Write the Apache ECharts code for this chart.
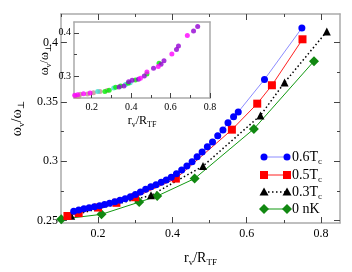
<!DOCTYPE html>
<html>
<head>
<meta charset="utf-8">
<script src="https://cdn.jsdelivr.net/npm/echarts@6/dist/echarts.min.js"></script>
<style>html,body{margin:0;padding:0;background:#fff;}#c{width:352px;height:272px;}</style>
</head>
<body>
<div id="c"></div>
<script>
// ---- main chart data: [r_v/R_TF, omega_v/omega_perp] ----
const blue06 = [[0.1345,0.2580],[0.148,0.2589],[0.162,0.2599],[0.176,0.2608],[0.190,0.2617],[0.204,0.2626],[0.2175,0.2636],[0.231,0.2646],[0.245,0.2658],[0.259,0.2671],[0.273,0.2685],[0.287,0.2701],[0.3005,0.2720],[0.314,0.2741],[0.328,0.2764],[0.342,0.2785],[0.356,0.2803],[0.370,0.2823],[0.3835,0.2842],[0.397,0.2865],[0.411,0.2894],[0.425,0.2926],[0.439,0.2959],[0.453,0.2996],[0.4665,0.3037],[0.480,0.3077],[0.494,0.3122],[0.508,0.3163],[0.522,0.3215],[0.536,0.3264],[0.5496,0.3325],[0.5647,0.3374],[0.5772,0.3415],[0.6478,0.3689],[0.7484,0.4122]];
const red05 = [[0.1176,0.2539],[0.1478,0.2563],[0.1999,0.2610],[0.2494,0.2650],[0.2997,0.2697],[0.4094,0.2854],[0.5601,0.3266],[0.6283,0.3485],[0.6678,0.3640],[0.7501,0.4027]];
const black03 = [[0.1277,0.2542],[0.3425,0.2713],[0.4824,0.2959],[0.6369,0.3386],[0.7018,0.3663],[0.8155,0.4093]];
const green0 = [[0.1010,0.2512],[0.2092,0.2553],[0.3106,0.2656],[0.3591,0.2707],[0.4598,0.2854],[0.6192,0.3272],[0.7810,0.3843]];
// ---- inset data ----
const insetMagenta = [[0.1135,0.2554],[0.1285,0.2568],[0.1585,0.2591],[0.1915,0.2607],[0.447,0.2945],[0.48,0.3092],[0.5375,0.3219],[0.6065,0.3508],[0.685,0.394]];
const insetPurple = [[0.3385,0.2746],[0.3635,0.2769],[0.387,0.2868],[0.405,0.2901],[0.4365,0.2924],[0.4665,0.3000],[0.5135,0.3178],[0.5515,0.3270],[0.5665,0.3353],[0.63,0.3612],[0.64,0.3693],[0.7165,0.4039],[0.7375,0.4143]];
const insetGreen = [[0.2665,0.2638],[0.2885,0.2670],[0.3215,0.2739],[0.3465,0.2769],[0.385,0.2831],[0.4215,0.2908],[0.48,0.3046],[0.5415,0.3293]];
const insetCyan = [[0.23,0.2638],[0.3115,0.2723],[0.3715,0.2800],[0.395,0.2845]];
const insetTan = [[0.12,0.2530],[0.1335,0.2522],[0.1415,0.2577],[0.1785,0.2584],[0.2085,0.2614],[0.2415,0.2638],[0.2785,0.2661]];
// ---- ticks ----
const mainXMajor = [0.2,0.4,0.6,0.8];
const mainXMinor = [0.1,0.3,0.5,0.7];
const mainYMajor = [0.25,0.3,0.35,0.4];
const mainYMinor = [0.275,0.325,0.375];
const insetXMajor = [0.2,0.4,0.6,0.8];
const insetXMinor = [0.3,0.5,0.7];
const insetYMajor = [0.3,0.4];
const insetYMinor = [0.25,0.35];
const legendNames = ['0.6T{s|c}','0.5T{s|c}','0.3T{s|c}','0 nK'];

const FF = "'Liberation Serif','DejaVu Serif',serif";
const chart = echarts.init(document.getElementById('c'), null, {renderer:'canvas'});

function axisX(opts){
  return Object.assign({
    type:'value', splitLine:{show:false},
    axisLine:{show:false}, axisLabel:{show:false},
    axisTick:{show:true, inside:true, length:5, lineStyle:{color:'#444', width:1}}
  }, opts);
}
const subRich = {s:{fontSize:9, fontFamily:FF, lineHeight:10, verticalAlign:'bottom', color:'#000'}};
const subRichSmall = {s:{fontSize:8, fontFamily:FF, lineHeight:9, verticalAlign:'bottom', color:'#000'}};

const frame = {show:true, lineStyle:{color:'#aaa', width:1.5}};

const option = {
  animation:false,
  backgroundColor:'#fff',
  grid:[
    {left:41, top:14, right:12, bottom:41, show:true, borderWidth:0, backgroundColor:'transparent'},
    {left:74, top:22, width:136, height:76, show:true, borderWidth:0, backgroundColor:'#fff'}
  ],
  xAxis:[
    axisX({gridIndex:0, min:0.1, max:0.851, position:'bottom', axisLine:frame,
      axisTick:{show:true, inside:true, length:6, customValues:mainXMajor, lineStyle:{color:'#444'}},
      axisLabel:{show:true, customValues:mainXMajor, margin:5, fontSize:12, fontFamily:FF, color:'#000'},
      name:'r{s|v}/R{s|TF}', nameLocation:'middle', nameGap:26,
      nameTextStyle:{fontSize:14, fontFamily:FF, color:'#000', lineHeight:18, rich:subRich}}),
    axisX({gridIndex:0, min:0.1, max:0.851, position:'bottom',
      axisTick:{show:true, inside:true, length:3, customValues:mainXMinor, lineStyle:{color:'#444'}}}),
    axisX({gridIndex:0, min:0.1, max:0.851, position:'top', axisLine:frame,
      axisTick:{show:true, inside:true, length:6, customValues:mainXMajor, lineStyle:{color:'#444'}}}),
    axisX({gridIndex:0, min:0.1, max:0.851, position:'top',
      axisTick:{show:true, inside:true, length:3, customValues:mainXMinor, lineStyle:{color:'#444'}}}),
    axisX({gridIndex:1, min:0.11, max:0.8, position:'bottom', axisLine:frame,
      axisTick:{show:true, inside:true, length:5, customValues:insetXMajor, lineStyle:{color:'#444'}},
      axisLabel:{show:true, customValues:insetXMajor, margin:4, fontSize:10, fontFamily:FF, color:'#000'},
      name:'r{s|v}/R{s|TF}', nameLocation:'middle', nameGap:14,
      nameTextStyle:{fontSize:12, fontFamily:FF, color:'#000', lineHeight:16, rich:subRichSmall}}),
    axisX({gridIndex:1, min:0.11, max:0.8, position:'bottom',
      axisTick:{show:true, inside:true, length:3, customValues:insetXMinor, lineStyle:{color:'#444'}}}),
    axisX({gridIndex:1, min:0.11, max:0.8, position:'top', axisLine:frame, axisTick:{show:false}})
  ],
  yAxis:[
    axisX({gridIndex:0, min:0.248, max:0.424, position:'left', axisLine:frame,
      axisTick:{show:true, inside:true, length:6, customValues:mainYMajor, lineStyle:{color:'#444'}},
      axisLabel:{show:true, customValues:mainYMajor, margin:3, fontSize:12, fontFamily:FF, color:'#000'},
      name:'ω{s|v}/ω{s|⊥}', nameLocation:'middle', nameGap:28,
      nameTextStyle:{fontSize:14, fontFamily:FF, color:'#000', lineHeight:18, rich:subRich}}),
    axisX({gridIndex:0, min:0.248, max:0.424, position:'left',
      axisTick:{show:true, inside:true, length:3, customValues:mainYMinor, lineStyle:{color:'#444'}}}),
    axisX({gridIndex:0, min:0.248, max:0.424, position:'right', axisLine:frame,
      axisTick:{show:true, inside:true, length:6, customValues:mainYMajor, lineStyle:{color:'#444'}}}),
    axisX({gridIndex:0, min:0.248, max:0.424, position:'right',
      axisTick:{show:true, inside:true, length:3, customValues:mainYMinor, lineStyle:{color:'#444'}}}),
    axisX({gridIndex:1, min:0.249, max:0.425, position:'left', axisLine:frame,
      axisTick:{show:true, inside:true, length:5, customValues:insetYMajor, lineStyle:{color:'#444'}},
      axisLabel:{show:true, customValues:insetYMajor, margin:3, fontSize:10, fontFamily:FF, color:'#000'},
      name:'ω{s|v}/ω{s|⊥}', nameLocation:'middle', nameGap:21,
      nameTextStyle:{fontSize:12, fontFamily:FF, color:'#000', lineHeight:16, rich:subRichSmall}}),
    axisX({gridIndex:1, min:0.249, max:0.425, position:'left',
      axisTick:{show:true, inside:true, length:3, customValues:insetYMinor, lineStyle:{color:'#444'}}}),
    axisX({gridIndex:1, min:0.249, max:0.425, position:'right', axisLine:frame, axisTick:{show:false}})
  ],
  series:[
    {type:'line', data:green0, xAxisIndex:0, yAxisIndex:0, symbol:'diamond', symbolSize:10,
      lineStyle:{color:'#119911', width:1}, itemStyle:{color:'#118811'}},
    {type:'line', data:black03, xAxisIndex:0, yAxisIndex:0, symbol:'triangle', symbolSize:8,
      lineStyle:{color:'#000', width:1.5, type:[1.5,2.5]}, itemStyle:{color:'#000'}},
    {type:'line', data:red05, xAxisIndex:0, yAxisIndex:0, symbol:'rect', symbolSize:8,
      lineStyle:{color:'#ff2020', width:1}, itemStyle:{color:'#ff0000'}},
    {type:'line', data:blue06, xAxisIndex:0, yAxisIndex:0, symbol:'circle', symbolSize:7,
      lineStyle:{color:'#8c8cff', width:1}, itemStyle:{color:'#0000ff'}},
    {type:'scatter', data:insetTan, xAxisIndex:4, yAxisIndex:4, symbolSize:5, itemStyle:{color:'#c09090'}},
    {type:'scatter', data:insetCyan, xAxisIndex:4, yAxisIndex:4, symbolSize:5, itemStyle:{color:'#40e0d0'}},
    {type:'scatter', data:insetGreen, xAxisIndex:4, yAxisIndex:4, symbolSize:5, itemStyle:{color:'#00ee00'}},
    {type:'scatter', data:insetPurple, xAxisIndex:4, yAxisIndex:4, symbolSize:5, itemStyle:{color:'#9400d3'}},
    {type:'scatter', data:insetMagenta, xAxisIndex:4, yAxisIndex:4, symbolSize:5, itemStyle:{color:'#ff00ff'}}
  ]
};

// ---- legend drawn as graphic ----
const legendStyles = [
  {line:'#8c8cff', mark:'#0000ff', shape:'circle', dash:null},
  {line:'#ff2020', mark:'#ff0000', shape:'rect', dash:null},
  {line:'#000', mark:'#000', shape:'triangle', dash:[1.5,2.5]},
  {line:'#119911', mark:'#118811', shape:'diamond', dash:null}
];
const legendRows = [157,175,192,209];
const lx0 = 264, lx1 = 287;
function markShape(shape, x, y, color){
  if(shape==='circle') return {type:'circle', shape:{cx:x, cy:y, r:3.5}, style:{fill:color}};
  if(shape==='rect') return {type:'rect', shape:{x:x-4, y:y-4, width:8, height:8}, style:{fill:color}};
  if(shape==='triangle') return {type:'polygon', shape:{points:[[x,y-4.5],[x+4.5,y+3.5],[x-4.5,y+3.5]]}, style:{fill:color}};
  return {type:'polygon', shape:{points:[[x,y-5],[x+5,y],[x,y+5],[x-5,y]]}, style:{fill:color}};
}
const g = [];
legendNames.forEach((nm,i)=>{
  const s = legendStyles[i], y = legendRows[i];
  g.push({type:'line', shape:{x1:lx0, y1:y, x2:lx1, y2:y}, style:{stroke:s.line, lineWidth:s.dash?1.5:1, lineDash:s.dash||null}});
  g.push(markShape(s.shape, lx0, y, s.mark));
  g.push(markShape(s.shape, lx1, y, s.mark));
  g.push({type:'text', x:292, y:y, style:{text:nm, fontSize:14, fontFamily:FF, fill:'#000',
    verticalAlign:'middle', align:'left', lineHeight:18,
    rich:{s:{fontSize:9, fontFamily:FF, lineHeight:10, verticalAlign:'bottom', fill:'#000'}}}});
});
option.graphic = g;
chart.setOption(option);
</script>
</body>
</html>
